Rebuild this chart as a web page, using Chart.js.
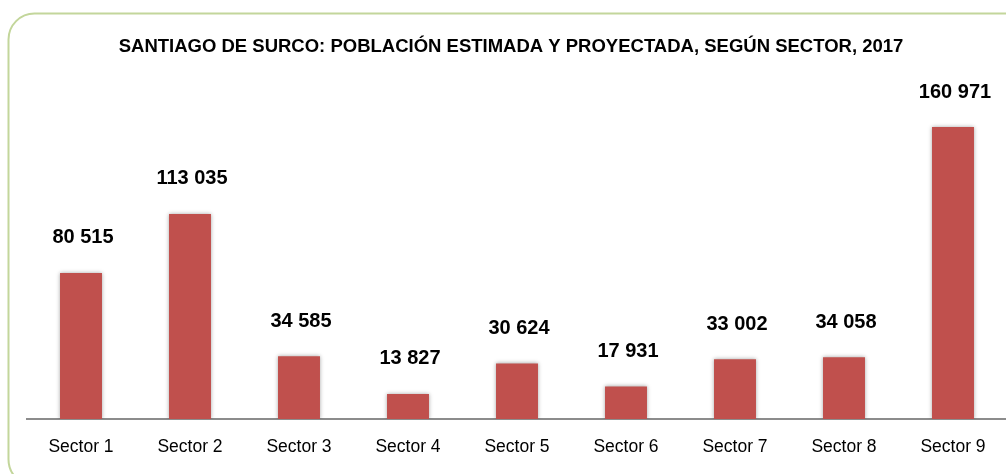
<!DOCTYPE html>
<html>
<head>
<meta charset="utf-8">
<script src="https://cdn.jsdelivr.net/npm/chart.js@4.4.1/dist/chart.umd.min.js"></script>
<style>
  html, body { margin: 0; padding: 0; background: #ffffff; overflow: hidden; }
  #wrap { width: 1006px; height: 474px; overflow: hidden; position: relative; }
  #c { position: absolute; left: 0; top: 0; }
</style>
</head>
<body>
<div id="wrap"><canvas id="c" width="1008" height="474"></canvas></div>
<script>
const titleText = 'SANTIAGO DE SURCO: POBLACIÓN ESTIMADA Y PROYECTADA, SEGÚN SECTOR, 2017';
const categories = ['Sector 1','Sector 2','Sector 3','Sector 4','Sector 5','Sector 6','Sector 7','Sector 8','Sector 9'];
const population = [80515, 113035, 34585, 13827, 30624, 17931, 33002, 34058, 160971];

function fmt(v) { return String(v).replace(/\B(?=(\d{3})+(?!\d))/g, ' '); }

const framePlugin = {
  id: 'frame',
  beforeDraw(chart) {
    const ctx = chart.ctx;
    ctx.save();
    ctx.fillStyle = '#ffffff';
    ctx.fillRect(0, 0, chart.width, chart.height);
    ctx.strokeStyle = '#c3d69b';
    ctx.lineWidth = 2;
    ctx.beginPath();
    ctx.roundRect(8.5, 13.5, 1025, 472, 26);
    ctx.stroke();
    ctx.fillStyle = '#000000';
    ctx.font = 'bold 18.5px "Liberation Sans", Arial, sans-serif';
    ctx.textAlign = 'center';
    ctx.textBaseline = 'middle';
    ctx.fillText(titleText, 511, 47);
    ctx.restore();
  }
};

const shadowPlugin = {
  id: 'barShadow',
  beforeDatasetsDraw(chart) {
    const ctx = chart.ctx;
    ctx.save();
    ctx.shadowColor = 'rgba(0,0,0,0.35)';
    ctx.shadowBlur = 4;
    ctx.shadowOffsetX = 0;
    ctx.shadowOffsetY = 0;
  },
  afterDatasetsDraw(chart) {
    chart.ctx.restore();
  }
};

const labelPlugin = {
  id: 'valueLabels',
  afterDatasetsDraw(chart) {
    const ctx = chart.ctx;
    const meta = chart.getDatasetMeta(0);
    ctx.save();
    ctx.fillStyle = '#000000';
    ctx.font = 'bold 20px "Liberation Sans", Arial, sans-serif';
    ctx.textAlign = 'center';
    ctx.textBaseline = 'middle';
    meta.data.forEach((bar, i) => {
      ctx.fillText(fmt(chart.data.datasets[0].data[i]), bar.x + 2, bar.y - 35);
    });
    ctx.restore();
  }
};

new Chart(document.getElementById('c'), {
  type: 'bar',
  data: {
    labels: categories,
    datasets: [{
      data: population,
      backgroundColor: '#c0504d',
      borderWidth: 0,
      barPercentage: 0.385,
      categoryPercentage: 1.0
    }]
  },
  options: {
    responsive: false,
    animation: false,
    events: [],
    layout: { padding: { top: 92.5, left: 26.5, right: 0.5, bottom: 0 } },
    plugins: {
      legend: { display: false },
      title: { display: false },
      tooltip: { enabled: false }
    },
    scales: {
      x: {
        grid: { display: false, drawTicks: false },
        border: { display: true, color: '#8c8c8c', width: 2 },
        ticks: {
          color: '#000000',
          padding: 18,
          font: { family: '"Liberation Sans", Arial, sans-serif', size: 17.5 },
          maxRotation: 0,
          autoSkip: false
        },
        afterFit(scale) { scale.height = 55; }
      },
      y: {
        display: false,
        min: 0,
        max: 180000
      }
    }
  },
  plugins: [framePlugin, shadowPlugin, labelPlugin]
});
</script>
</body>
</html>
